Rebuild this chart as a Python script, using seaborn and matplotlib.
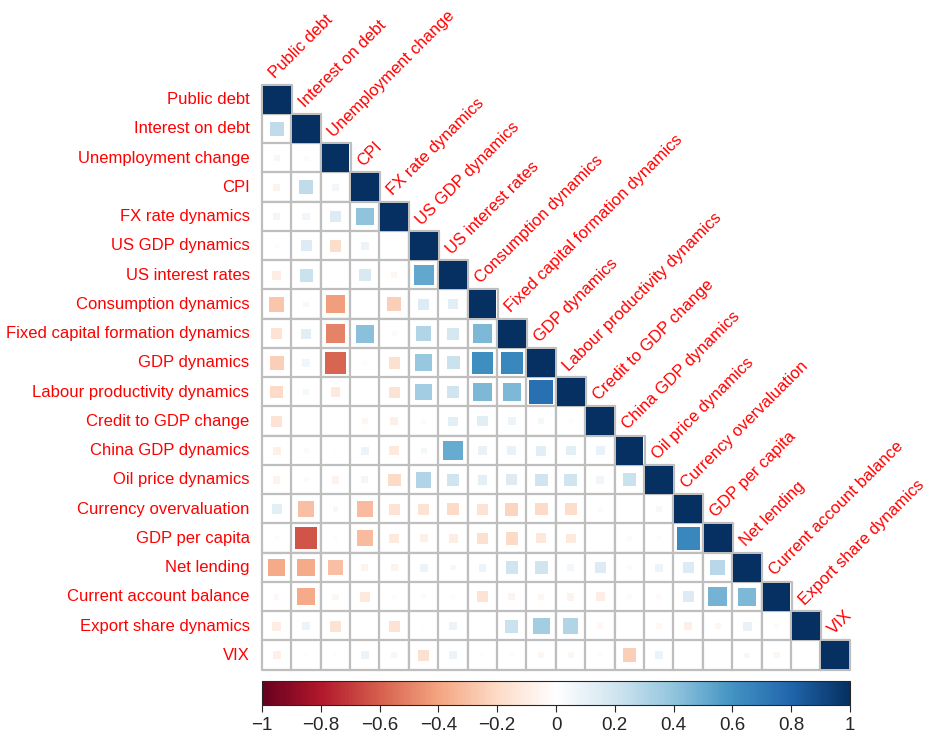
#!/usr/bin/env python3
"""Lower-triangle correlation matrix drawn as sized squares (corrplot style)."""

import matplotlib

matplotlib.use("Agg")
import matplotlib.pyplot as plt
import numpy as np
import pandas as pd
import seaborn as sns
from matplotlib.cm import ScalarMappable
from matplotlib.colors import ListedColormap, Normalize

labels = [
    "Public debt",
    "Interest on debt",
    "Unemployment change",
    "CPI",
    "FX rate dynamics",
    "US GDP dynamics",
    "US interest rates",
    "Consumption dynamics",
    "Fixed capital formation dynamics",
    "GDP dynamics",
    "Labour productivity dynamics",
    "Credit to GDP change",
    "China GDP dynamics",
    "Oil price dynamics",
    "Currency overvaluation",
    "GDP per capita",
    "Net lending",
    "Current account balance",
    "Export share dynamics",
    "VIX",
]

# correlations below the diagonal, one list per row (columns 0..i-1)
r_interest = [0.25]
r_unemployment = [0.05, -0.03]
r_cpi = [-0.07, 0.25, 0.06]
r_fx = [0.07, 0.07, 0.15, 0.40]
r_us_gdp = [-0.02, 0.15, -0.18, 0.08, 0.0]
r_us_rates = [-0.10, 0.22, 0.0, 0.17, -0.05, 0.52]
r_consumption = [-0.28, 0.04, -0.42, 0.0, -0.25, 0.15, 0.13]
r_fixed_capital = [-0.15, 0.13, -0.50, 0.42, 0.03, 0.30, 0.18, 0.45]
r_gdp = [-0.25, 0.07, -0.58, 0.02, -0.17, 0.38, 0.22, 0.62, 0.65]
r_labour = [-0.20, 0.05, -0.12, 0.0, -0.15, 0.35, 0.20, 0.45, 0.45, 0.75]
r_credit = [-0.15, 0.0, 0.0, -0.05, -0.08, 0.03, 0.12, 0.13, 0.08, 0.05, 0.02]
r_china = [-0.08, 0.03, 0.01, 0.08, -0.12, 0.05, 0.50, 0.10, 0.10, 0.13, 0.12,
           0.10]
r_oil = [-0.07, 0.03, -0.07, 0.06, -0.20, 0.30, 0.20, 0.12, 0.15, 0.20, 0.20,
         0.07, 0.22]
r_currency = [0.12, -0.30, 0.04, -0.32, -0.15, -0.15, -0.20, -0.15, -0.22,
              -0.20, -0.18, 0.03, 0.0, 0.04]
r_gdp_pc = [-0.02, -0.63, 0.02, -0.32, -0.12, -0.08, -0.10, -0.17, -0.20,
            -0.13, -0.12, 0.01, -0.03, -0.02, 0.65]
r_net_lending = [-0.38, -0.38, -0.30, -0.06, -0.07, 0.08, 0.04, 0.08, 0.20,
                 0.20, 0.06, 0.15, 0.03, 0.08, 0.15, 0.28]
r_current_acc = [-0.04, -0.38, -0.05, -0.12, -0.02, 0.03, -0.02, -0.15, -0.06,
                 -0.05, -0.07, -0.10, -0.03, -0.03, 0.15, 0.47, 0.45]
r_export = [-0.10, 0.08, -0.15, 0.0, -0.15, -0.01, 0.08, 0.01, 0.22, 0.35,
            0.30, -0.04, 0.0, -0.04, -0.08, -0.05, 0.10, 0.03]
r_vix = [-0.08, 0.02, -0.02, 0.08, 0.05, -0.17, 0.08, 0.02, -0.02, -0.05,
         -0.05, 0.02, -0.25, 0.08, -0.01, 0.01, 0.04, -0.05, 0.0]

lower_rows = [[], r_interest, r_unemployment, r_cpi, r_fx, r_us_gdp,
              r_us_rates, r_consumption, r_fixed_capital, r_gdp, r_labour,
              r_credit, r_china, r_oil, r_currency, r_gdp_pc, r_net_lending,
              r_current_acc, r_export, r_vix]

cbar_ticks = [-1, -0.8, -0.6, -0.4, -0.2, 0, 0.2, 0.4, 0.6, 0.8, 1]

# corrplot's default RdBu ramp
corr_colors = ["#67001F", "#B2182B", "#D6604D", "#F4A582", "#FDDBC7",
               "#FFFFFF", "#D1E5F0", "#92C5DE", "#4393C3", "#2166AC",
               "#053061"]

n = len(labels)
mat = np.zeros((n, n))
for i, row in enumerate(lower_rows):
    mat[i, :i] = row
    mat[i, i] = 1.0
upper = np.triu(np.ones((n, n), dtype=bool), k=1)
corr = pd.DataFrame(mat, index=labels, columns=labels)

long = (
    corr.where(~upper)
    .stack()
    .rename("r")
    .reset_index()
    .rename(columns={"level_0": "row", "level_1": "col"})
)
pos = {k: v + 0.5 for v, k in enumerate(labels)}
long["x"] = long["col"].map(pos)
long["y"] = long["row"].map(pos)
long["mag"] = long["r"].abs()

sns.set_style("white")
plt.rcParams["font.family"] = ["Liberation Sans", "DejaVu Sans"]

DPI = 100
fig = plt.figure(figsize=(9.26, 7.40), dpi=DPI)
ax = fig.add_axes([262 / 926, 1 - 670 / 740, 588 / 926, 585 / 740])

# white lower-triangle background
sns.heatmap(
    corr,
    mask=upper,
    cmap=ListedColormap(["white"]),
    cbar=False,
    ax=ax,
)

cell_pt = 588 / n * 72 / DPI

# grey cell outlines for the lower triangle
sns.scatterplot(
    data=long,
    x="x",
    y="y",
    marker="s",
    s=cell_pt ** 2,
    color="white",
    edgecolor="#BEBEBE",
    linewidth=1.6,
    legend=False,
    ax=ax,
    zorder=2,
    clip_on=False,
)

cmap = sns.blend_palette(corr_colors, as_cmap=True)
max_side_pt = cell_pt * 0.95
sns.scatterplot(
    data=long,
    x="x",
    y="y",
    hue="r",
    hue_norm=(-1, 1),
    palette=cmap,
    size="mag",
    size_norm=(0, 1),
    sizes=(0, max_side_pt ** 2),
    marker="s",
    linewidth=0,
    legend=False,
    ax=ax,
    zorder=3,
    clip_on=False,
)
ax.set_xlim(0, n)
ax.set_ylim(n, 0)
ax.set_xlabel("")
ax.set_ylabel("")
ax.set_xticks([])
ax.set_yticks(np.arange(n) + 0.5)
ax.set_yticklabels(labels, rotation=0, color="red", fontsize=12)
ax.tick_params(axis="y", length=0, pad=9)
sns.despine(ax=ax, left=True, bottom=True)

for j, name in enumerate(labels):
    ax.text(j + 0.45, j - 0.2, name, rotation=45, rotation_mode="anchor",
            ha="left", va="baseline", color="red", fontsize=12, clip_on=False)

cax = fig.add_axes([262 / 926, 1 - 705 / 740, 588 / 926, 24 / 740])
sm = ScalarMappable(norm=Normalize(-1, 1), cmap=cmap)
cb = fig.colorbar(sm, cax=cax, orientation="horizontal")
cb.set_ticks(cbar_ticks)
cb.set_ticklabels([f"{t:g}".replace("-", "\u2212") for t in cbar_ticks])
cb.outline.set_linewidth(0.8)
cax.tick_params(axis="x", length=5, width=0.8, labelsize=13.5, pad=4)

fig.savefig("out.png", dpi=DPI)
